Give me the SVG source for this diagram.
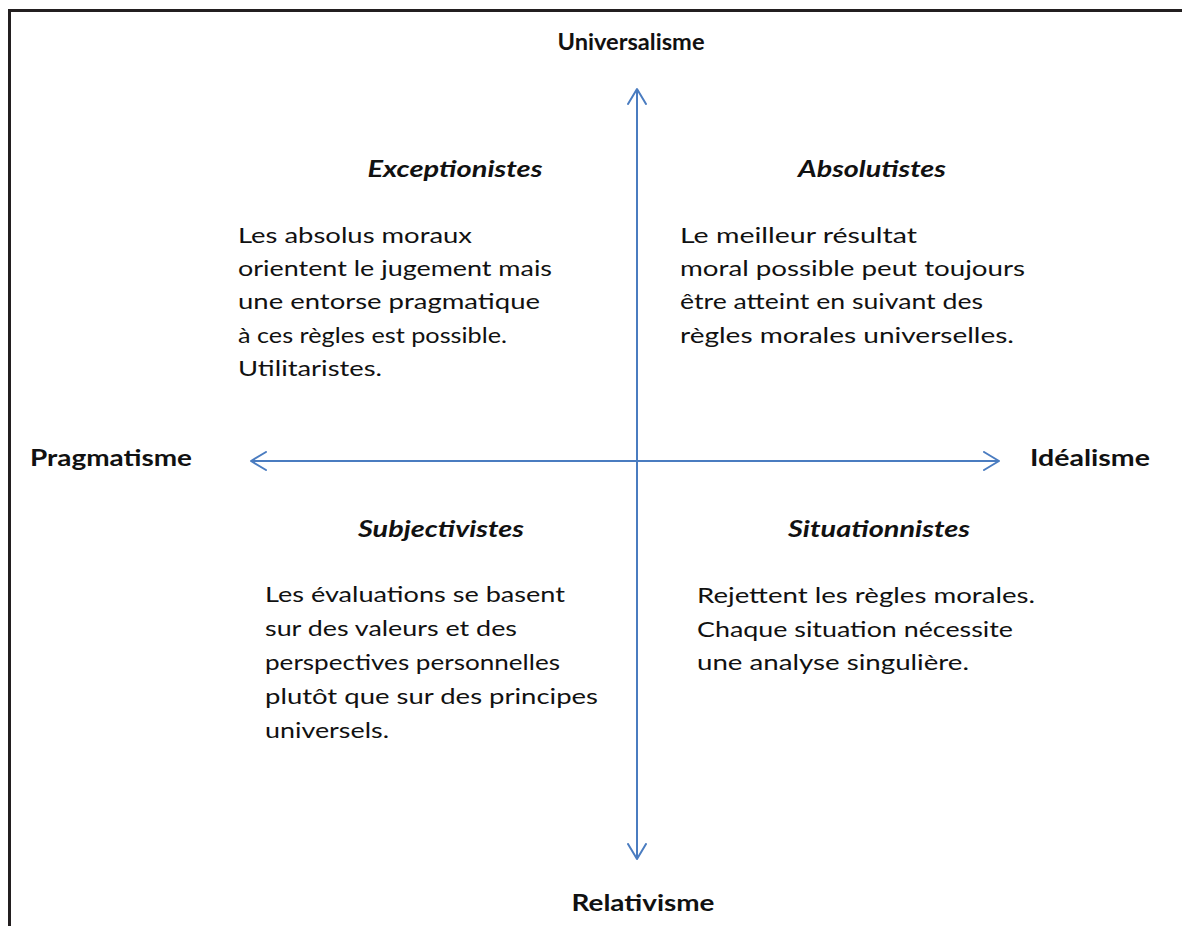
<svg xmlns="http://www.w3.org/2000/svg" width="1182" height="926" viewBox="0 0 1182 926">
<defs>
<style>
.axis{font-family:Lato,"Liberation Sans",sans-serif;font-weight:bold;font-size:22px;fill:#111;text-anchor:middle}
.head{font-family:Lato,"Liberation Sans",sans-serif;font-weight:bold;font-style:italic;font-size:22px;fill:#111;text-anchor:middle}
.body{font-family:Lato,"Liberation Sans",sans-serif;font-size:22px;fill:#111}
.conn{stroke:#4a7cc0;stroke-width:2;fill:none}
</style>
<marker id="arr" viewBox="0 0 20 20" refX="16" refY="10" markerWidth="20" markerHeight="20" markerUnits="userSpaceOnUse" orient="auto-start-reverse">
<path d="M1,1 L16,10 L1,19" fill="none" stroke="#4a7cc0" stroke-width="2" stroke-linecap="round" stroke-linejoin="round"/>
</marker>
</defs>
<rect width="1182" height="926" fill="#fff"/>
<path d="M9.5,926 V10.5 H1182" fill="none" stroke="#231f20" stroke-width="3"/>
<g id="connectors">
<line class="conn" x1="637" y1="89" x2="637" y2="859" marker-start="url(#arr)" marker-end="url(#arr)"/>
<line class="conn" x1="251" y1="461" x2="999" y2="461" marker-start="url(#arr)" marker-end="url(#arr)"/>
</g>
<g id="universalisme"><text class="axis" x="631" y="50" textLength="147" lengthAdjust="spacingAndGlyphs">Universalisme</text></g>
<g id="relativisme"><text class="axis" x="643" y="911" textLength="143" lengthAdjust="spacingAndGlyphs">Relativisme</text></g>
<g id="pragmatisme"><text class="axis" x="111" y="466" textLength="162" lengthAdjust="spacingAndGlyphs">Pragmatisme</text></g>
<g id="idealisme"><text class="axis" x="1090" y="466" textLength="120" lengthAdjust="spacingAndGlyphs">Idéalisme</text></g>
<g id="exceptionistes">
<text class="head" x="455" y="177" textLength="175" lengthAdjust="spacingAndGlyphs">Exceptionistes</text>
<text class="body" x="238" y="243" textLength="234" lengthAdjust="spacingAndGlyphs">Les absolus moraux</text>
<text class="body" x="238" y="276" textLength="314" lengthAdjust="spacingAndGlyphs">orientent le jugement mais</text>
<text class="body" x="238" y="309" textLength="302" lengthAdjust="spacingAndGlyphs">une entorse pragmatique</text>
<text class="body" x="238" y="343" textLength="269" lengthAdjust="spacingAndGlyphs">à ces règles est possible.</text>
<text class="body" x="238" y="376" textLength="144" lengthAdjust="spacingAndGlyphs">Utilitaristes.</text>
</g>
<g id="absolutistes">
<text class="head" x="872" y="177" textLength="148" lengthAdjust="spacingAndGlyphs">Absolutistes</text>
<text class="body" x="680" y="243" textLength="237" lengthAdjust="spacingAndGlyphs">Le meilleur résultat</text>
<text class="body" x="680" y="276" textLength="345" lengthAdjust="spacingAndGlyphs">moral possible peut toujours</text>
<text class="body" x="680" y="309" textLength="303" lengthAdjust="spacingAndGlyphs">être atteint en suivant des</text>
<text class="body" x="680" y="343" textLength="334" lengthAdjust="spacingAndGlyphs">règles morales universelles.</text>
</g>
<g id="subjectivistes">
<text class="head" x="441" y="537" textLength="166" lengthAdjust="spacingAndGlyphs">Subjectivistes</text>
<text class="body" x="265" y="602" textLength="300" lengthAdjust="spacingAndGlyphs">Les évaluations se basent</text>
<text class="body" x="265" y="636" textLength="252" lengthAdjust="spacingAndGlyphs">sur des valeurs et des</text>
<text class="body" x="265" y="670" textLength="295" lengthAdjust="spacingAndGlyphs">perspectives personnelles</text>
<text class="body" x="265" y="704" textLength="333" lengthAdjust="spacingAndGlyphs">plutôt que sur des principes</text>
<text class="body" x="265" y="738" textLength="124" lengthAdjust="spacingAndGlyphs">universels.</text>
</g>
<g id="situationnistes">
<text class="head" x="879" y="537" textLength="182" lengthAdjust="spacingAndGlyphs">Situationnistes</text>
<text class="body" x="697" y="603" textLength="338" lengthAdjust="spacingAndGlyphs">Rejettent les règles morales.</text>
<text class="body" x="697" y="637" textLength="316" lengthAdjust="spacingAndGlyphs">Chaque situation nécessite</text>
<text class="body" x="697" y="670" textLength="272" lengthAdjust="spacingAndGlyphs">une analyse singulière.</text>
</g>
</svg>
